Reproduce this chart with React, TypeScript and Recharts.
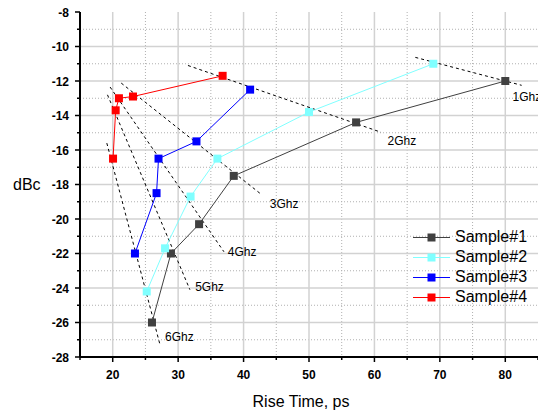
import React from "react";
import {
  ScatterChart,
  Scatter,
  XAxis,
  YAxis,
  CartesianGrid,
  Label,
} from "recharts";

type Pt = { x: number; y: number };

// rise time (ps) vs dBc, one entry per frequency 1..6 GHz
const sample1: Pt[] = [
  { x: 80, y: -12 },
  { x: 57.2, y: -14.4 },
  { x: 38.5, y: -17.5 },
  { x: 33.2, y: -20.3 },
  { x: 28.9, y: -22 },
  { x: 26, y: -26 },
];
const sample2: Pt[] = [
  { x: 69, y: -11 },
  { x: 50, y: -13.8 },
  { x: 36, y: -16.5 },
  { x: 31.9, y: -18.7 },
  { x: 28, y: -21.7 },
  { x: 25.2, y: -24.2 },
];
const sample3: Pt[] = [
  { x: 41, y: -12.5 },
  { x: 32.8, y: -15.5 },
  { x: 27, y: -16.5 },
  { x: 26.7, y: -18.5 },
  { x: 23.4, y: -22 },
];
const sample4: Pt[] = [
  { x: 36.8, y: -11.7 },
  { x: 23.1, y: -12.9 },
  { x: 20.95, y: -13 },
  { x: 20.45, y: -13.7 },
  { x: 20.05, y: -16.5 },
];

// dashed constant-frequency guides: [start, end]
const freqNames = ["1Ghz", "2Ghz", "3Ghz", "4Ghz", "5Ghz", "6Ghz"];
const freqLines: Pt[][] = [
  [{ x: 66.25, y: -10.63 }, { x: 82.5, y: -12.25 }],
  [{ x: 31.5, y: -11.1 }, { x: 61.0, y: -14.97 }],
  [{ x: 21.3, y: -12.12 }, { x: 42.8, y: -18.6 }],
  [{ x: 19.6, y: -12.35 }, { x: 37.0, y: -21.9 }],
  [{ x: 19.2, y: -12.8 }, { x: 31.8, y: -24.1 }],
  [{ x: 19.1, y: -15.6 }, { x: 27.2, y: -27.25 }],
];
const freqLabelAt: Pt[] = [
  { x: 81.1, y: -12.93 },
  { x: 62.0, y: -15.48 },
  { x: 44.0, y: -19.13 },
  { x: 37.6, y: -21.9 },
  { x: 32.6, y: -23.94 },
  { x: 28.0, y: -26.84 },
];

const xTicks = [15, 20, 25, 30, 35, 40, 45, 50, 55, 60, 65, 70, 75, 80, 85];
const xMajor = [20, 30, 40, 50, 60, 70, 80];
const xMinor = [25, 35, 45, 55, 65, 75];
const yTicks = [
  -28, -27, -26, -25, -24, -23, -22, -21, -20, -19, -18, -17, -16, -15, -14,
  -13, -12, -11, -10, -9, -8,
];
const yMajor = [-26, -24, -22, -20, -18, -16, -14, -12, -10];
const yMinor = [-27, -25, -23, -21, -19, -17, -15, -13, -11, -9];

const series = [
  { name: "Sample#1", data: sample1, color: "#404040" },
  { name: "Sample#2", data: sample2, color: "#80FFFF" },
  { name: "Sample#3", data: sample3, color: "#0000FF" },
  { name: "Sample#4", data: sample4, color: "#FF0000" },
];

const FONT = '"Liberation Sans", Arial, sans-serif';

const XTick = (props: any) => {
  const { x, y, payload } = props;
  const major = payload.value % 10 === 0;
  return (
    <g>
      <line x1={x} x2={x} y1={y} y2={y + (major ? 5 : 3)} stroke="#000" strokeWidth={1.5} />
      {major && (
        <text x={x} y={y + 22} textAnchor="middle" fontSize={12} fontWeight="bold" fontFamily={FONT} fill="#000">
          {payload.value}
        </text>
      )}
    </g>
  );
};

const YTick = (props: any) => {
  const { x, y, payload } = props;
  const major = payload.value % 2 === 0;
  return (
    <g>
      <line x1={x} x2={x - (major ? 5 : 3)} y1={y} y2={y} stroke="#000" strokeWidth={1.5} />
      {major && (
        <text x={x - 11} y={y + 4.5} textAnchor="end" fontSize={12} fontWeight="bold" fontFamily={FONT} fill="#000">
          {payload.value}
        </text>
      )}
    </g>
  );
};

const square = (color: string) => (p: any) =>
  <rect x={p.cx - 4} y={p.cy - 4} width={8} height={8} fill={color} />;

const LegendBox = () => (
  <div style={{ position: "absolute", left: 413, top: 227, fontFamily: FONT, fontSize: 16, color: "#000" }}>
    {series.map((s) => (
      <div key={s.name} style={{ display: "flex", alignItems: "center", height: 20 }}>
        <svg width={42} height={20} style={{ display: "block" }}>
          <line x1={0} x2={37} y1={10.5} y2={10.5} stroke={s.color} strokeWidth={1} />
          <rect x={14.5} y={6.5} width={8} height={8} fill={s.color} />
        </svg>
        <span style={{ lineHeight: "20px" }}>{s.name}</span>
      </div>
    ))}
  </div>
);

export default function App() {
  return (
    <div style={{ position: "absolute", left: 0, top: 0, width: 538, height: 414, background: "#fff" }}>
      <ScatterChart width={538} height={414} margin={{ top: 12, right: 0, left: 0, bottom: 0 }}>
        <CartesianGrid
          verticalValues={xMinor}
          horizontalValues={yMinor}
          stroke="#b0b0b0"
          strokeDasharray="1 2"
        />
        <CartesianGrid verticalValues={xMajor} horizontalValues={yMajor} stroke="#d2d2d2" strokeWidth={1.5} />
        <XAxis
          type="number"
          dataKey="x"
          domain={[15, 85]}
          ticks={xTicks}
          height={57}
          tickSize={0}
          tickMargin={0}
          tick={<XTick />}
          interval={0}
          axisLine={{ stroke: "#000", strokeWidth: 2 }}
          allowDataOverflow
        >
          <Label
            content={(p: any) => (
              <text
                x={p.viewBox.x + p.viewBox.width / 2 - 8}
                y={p.viewBox.y + p.viewBox.height - 7}
                textAnchor="middle"
                fontSize={16}
                fontFamily={FONT}
                fill="#000"
              >
                Rise Time, ps
              </text>
            )}
          />
        </XAxis>
        <YAxis
          type="number"
          dataKey="y"
          domain={[-28, -8]}
          ticks={yTicks}
          width={80}
          tickSize={0}
          tickMargin={0}
          tick={<YTick />}
          interval={0}
          axisLine={{ stroke: "#000", strokeWidth: 2 }}
          allowDataOverflow
        >
          <Label
            content={(p: any) => (
              <text
                x={p.viewBox.x + 13}
                y={p.viewBox.y + p.viewBox.height / 2 + 5.5}
                fontSize={16}
                fontFamily={FONT}
                fill="#000"
              >
                dBc
              </text>
            )}
          />
        </YAxis>
        {freqLines.map((seg, i) => (
          <Scatter
            key={freqNames[i]}
            data={seg}
            line={{ stroke: "#000", strokeWidth: 1, strokeDasharray: "3 3" }}
            shape={() => <g />}
            legendType="none"
            isAnimationActive={false}
          />
        ))}
        <Scatter
          data={freqLabelAt.map((p, i) => ({ ...p, name: freqNames[i] }))}
          shape={(p: any) => (
            <text x={p.cx} y={p.cy + 4} fontSize={12} fontFamily={FONT} fill="#000">
              {p.payload.name}
            </text>
          )}
          legendType="none"
          isAnimationActive={false}
        />
        {series.map((s) => (
          <Scatter
            key={s.name}
            name={s.name}
            data={s.data}
            line={{ stroke: s.color, strokeWidth: 1 }}
            lineType="joint"
            shape={square(s.color)}
            isAnimationActive={false}
          />
        ))}
      </ScatterChart>
      <LegendBox />
    </div>
  );
}
